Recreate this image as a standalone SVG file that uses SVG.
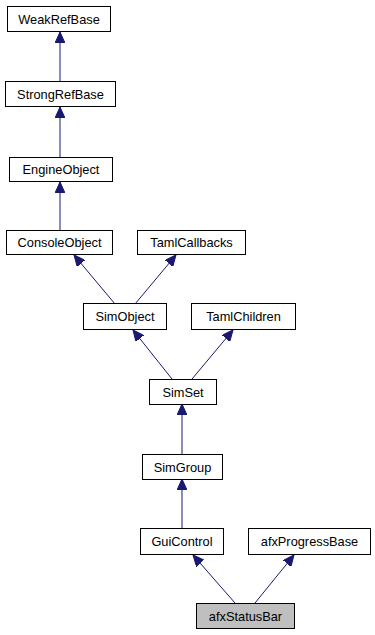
<svg xmlns="http://www.w3.org/2000/svg" width="375" height="635" viewBox="0 0 375 635">
  <style>
    .node rect { fill: #ffffff; stroke: #000000; stroke-width: 1; }
    .node.current rect { fill: #bfbfbf; }
    .node text { font-family: "Liberation Sans", Arial, sans-serif; font-size: 12.8px; fill: #000000; text-anchor: middle; }
    .edge { stroke: #191970; stroke-width: 1; fill: none; marker-end: url(#arrow); }
  </style>
  <defs>
    <marker id="arrow" viewBox="0 0 11 10" refX="11" refY="5" markerWidth="11" markerHeight="10" markerUnits="userSpaceOnUse" orient="auto">
      <path d="M0,0 L11,5 L0,10 Z" fill="#191970" stroke="#191970" stroke-width="1"/>
    </marker>
  </defs>
  <rect width="375" height="635" fill="#ffffff"/>

  <!-- inheritance edges: child -> base -->
  <g id="edges">
    <line class="edge" x1="60" y1="82" x2="60" y2="32"/>
    <line class="edge" x1="60" y1="157" x2="60" y2="107"/>
    <line class="edge" x1="60" y1="230" x2="60" y2="182"/>
    <line class="edge" x1="115" y1="304" x2="74" y2="255"/>
    <line class="edge" x1="135" y1="304" x2="176" y2="255"/>
    <line class="edge" x1="172" y1="379" x2="133" y2="330"/>
    <line class="edge" x1="192" y1="379" x2="233" y2="330"/>
    <line class="edge" x1="182" y1="454" x2="182" y2="404"/>
    <line class="edge" x1="182" y1="528" x2="182" y2="479"/>
    <line class="edge" x1="235" y1="603" x2="193" y2="555"/>
    <line class="edge" x1="255" y1="603" x2="294" y2="555"/>
  </g>

  <g id="WeakRefBase" class="node">
    <rect x="7.5" y="6.5" width="103" height="25"/>
    <text x="59" y="23.5">WeakRefBase</text>
  </g>
  <g id="StrongRefBase" class="node">
    <rect x="5.5" y="81.5" width="110" height="25"/>
    <text x="60.5" y="98.5">StrongRefBase</text>
  </g>
  <g id="EngineObject" class="node">
    <rect x="9.5" y="157.5" width="103" height="24"/>
    <text x="61" y="174">EngineObject</text>
  </g>
  <g id="ConsoleObject" class="node">
    <rect x="6.5" y="230.5" width="106" height="24"/>
    <text x="59.5" y="247">ConsoleObject</text>
  </g>
  <g id="TamlCallbacks" class="node">
    <rect x="137.5" y="230.5" width="108" height="24"/>
    <text x="191.5" y="247">TamlCallbacks</text>
  </g>
  <g id="SimObject" class="node">
    <rect x="83.5" y="303.5" width="83" height="26"/>
    <text x="125" y="321">SimObject</text>
  </g>
  <g id="TamlChildren" class="node">
    <rect x="191.5" y="303.5" width="104" height="26"/>
    <text x="243.5" y="321">TamlChildren</text>
  </g>
  <g id="SimSet" class="node">
    <rect x="149.5" y="379.5" width="67" height="25"/>
    <text x="183" y="396.5">SimSet</text>
  </g>
  <g id="SimGroup" class="node">
    <rect x="142.5" y="454.5" width="80" height="25"/>
    <text x="182.5" y="471.5">SimGroup</text>
  </g>
  <g id="GuiControl" class="node">
    <rect x="140.5" y="528.5" width="83" height="26"/>
    <text x="182" y="546">GuiControl</text>
  </g>
  <g id="afxProgressBase" class="node">
    <rect x="248.5" y="528.5" width="122" height="26"/>
    <text x="309.5" y="546">afxProgressBase</text>
  </g>
  <g id="afxStatusBar" class="node current">
    <rect x="196.5" y="603.5" width="98" height="25"/>
    <text x="245.5" y="620.5">afxStatusBar</text>
  </g>
</svg>
